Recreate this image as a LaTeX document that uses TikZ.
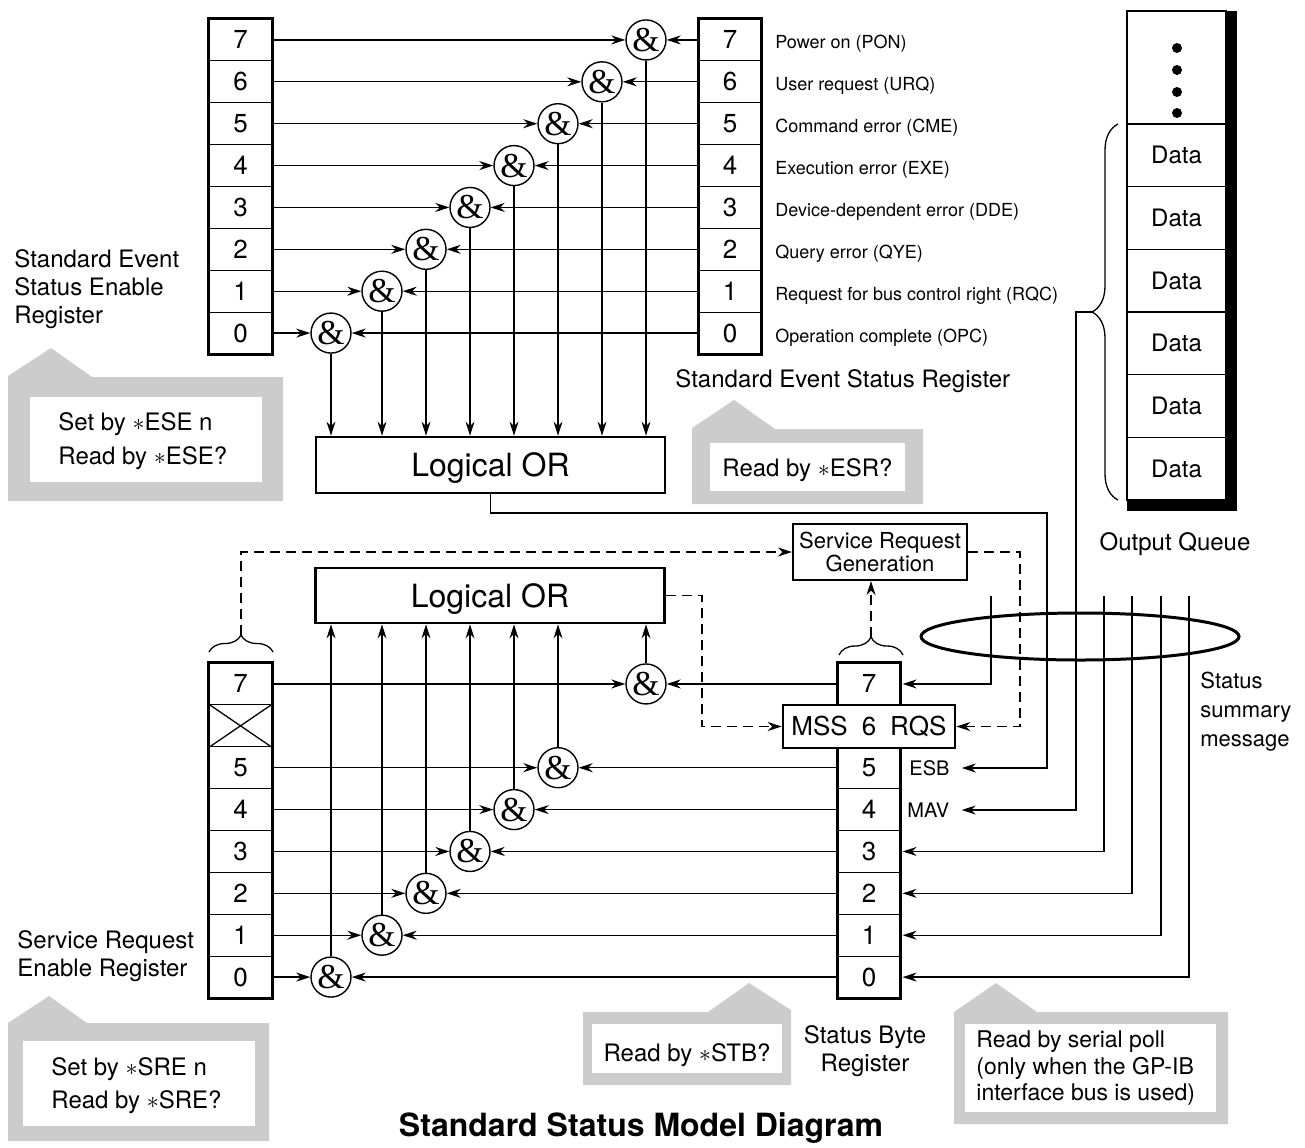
\documentclass[tikz,border=0pt]{standalone}
\usepackage{fontspec}
\setmainfont{TeX Gyre Heros}
\newfontfamily\ampfont{Liberation Serif}
\usetikzlibrary{arrows.meta,decorations.pathreplacing}

\definecolor{callgray}{HTML}{CCCCCC}

\tikzset{
  cell/.style={draw, line width=0.6pt, minimum width=31pt, minimum height=20.94pt, inner sep=0pt, font=\fontsize{13}{13}\selectfont},
  regline/.style={line width=1.5pt},
  gate/.style={circle, draw, line width=0.7pt, minimum size=20pt, inner sep=0pt, fill=white, font=\ampfont\fontsize{17.5}{17.5}\selectfont},
  orbox/.style={draw, line width=1.4pt, minimum width=174.5pt, minimum height=28pt, inner sep=0pt, text height=11.5pt, text depth=0pt, font=\fontsize{16}{16}\selectfont},
  qcell/.style={draw, line width=0.6pt, minimum width=49.5pt, minimum height=31.33pt, inner sep=0pt, font=\fontsize{12}{12}\selectfont},
  wire/.style={line width=0.65pt},
  arr/.style={wire, -{Stealth[length=7pt,width=4.5pt]}},
  dasharr/.style={arr, dash pattern=on 5pt off 3pt},
  curly/.style={decorate, decoration={brace, amplitude=#1}, line width=0.65pt},
  lbl/.style={inner sep=0pt, anchor=base west, font=\fontsize{9}{11}\selectfont},
  txt/.style={inner sep=0pt, align=left, font=\fontsize{12}{14}\selectfont},
}

\begin{document}
\begin{tikzpicture}[x=0.5pt,y=-0.5pt]
\useasboundingbox (0,0) rectangle (1305,1147);

% grey callouts
\fill[callgray] (8,376) -- (51,348) -- (92,377) -- (283,377) -- (283,501) -- (8,501) -- cycle;
\fill[white] (30,397) rectangle (262,482);
\fill[callgray] (692,428) -- (734,400) -- (775,429) -- (923,429) -- (923,504) -- (692,504) -- cycle;
\fill[white] (710,443) rectangle (905,491);
\fill[callgray] (8,1023) -- (49,996) -- (87,1023) -- (269,1023) -- (269,1141) -- (8,1141) -- cycle;
\fill[white] (23,1041) rectangle (255,1126);
\fill[callgray] (583,1012) -- (708,1012) -- (749,983) -- (791,1010) -- (791,1085) -- (583,1085) -- cycle;
\fill[white] (592,1024) rectangle (782,1073);
\fill[callgray] (954,1012) -- (996,983) -- (1037,1012) -- (1228,1012) -- (1228,1124) -- (954,1124) -- cycle;
\fill[white] (965,1024) rectangle (1216,1112);

\node[orbox] (eor) at (490.5,465) {Logical OR};
\node[orbox, minimum height=27.5pt] (sor) at (490,595.5) {Logical OR};

\foreach \bit/\gx in {0/331,1/382,2/426,3/470,4/514,5/558,6/602,7/646}
{
\pgfmathsetmacro\ty{19+41.875*(7.5-\bit)}
\pgfmathsetmacro\by{663+41.875*(7.5-\bit)}
\node[cell] (ese\bit) at (240.5,\ty) {\bit};
\node[cell] (esr\bit) at (730,\ty) {\bit};
\node[gate] (eg\bit) at (\gx,\ty) {\&};
\draw[arr] (ese\bit.east) -- (eg\bit.west);
\draw[arr] (esr\bit.west) -- (eg\bit.east);
\draw[arr] (eg\bit.south) -- (eg\bit.south |- eor.north);
\ifnum\bit=6
\node[cell] (sre6) at (240.5,\by) {};
\node[cell] (stb6) at (869,\by) {};
\else
\node[cell] (sre\bit) at (240.5,\by) {\bit};
\node[cell] (stb\bit) at (869,\by) {\bit};
\node[gate] (sg\bit) at (\gx,\by) {\&};
\draw[arr] (sre\bit.east) -- (sg\bit.west);
\draw[arr] (stb\bit.west) -- (sg\bit.east);
\draw[arr] (sg\bit.north) -- (sg\bit.north |- sor.south);
\fi
}
\foreach \r in {ese,esr,sre,stb}
\draw[regline] (\r7.north west) rectangle (\r0.south east);
\draw[wire] (sre6.north west) -- (sre6.south east) (sre6.north east) -- (sre6.south west);

% event names
\foreach \bit/\t in {7/Power on (PON),6/User request (URQ),5/Command error (CME),4/Execution error (EXE),3/Device-dependent error (DDE),2/Query error (QYE),1/Request for bus control right (RQC),0/Operation complete (OPC)}
{
\pgfmathsetmacro\ty{19+41.875*(7.5-\bit)+9}
\node[lbl] at (775,\ty) {\t};
}

\node[draw, line width=1.3pt, fill=white, minimum width=86pt, minimum height=21.5pt, inner sep=0pt, font=\fontsize{13}{13}\selectfont] (mss) at (869,726.5) {MSS\hspace{7pt}6\hspace{7pt}RQS};
\node[draw, line width=1.1pt, minimum width=87pt, minimum height=28pt, inner sep=0pt, align=center, font=\fontsize{11}{11.5}\selectfont] (srg) at (880,552) {Service Request\\Generation};

% braces
\draw[curly=8.5pt] (209,652) -- (273,652);
\draw[curly=9pt] (839,655) -- (903,655);
\draw[curly=13pt] (1118,500) -- (1118,124);
\coordinate (srebr) at (241,635);
\coordinate (stbbr) at (871,637);
\coordinate (oqbr) at (1092,312);

\draw[dasharr] (srebr) |- (srg.west);
\draw[dasharr] (srg.east) -- ++(52,0) |- (mss.east);
\draw[dasharr] (sor.east) -- ++(36,0) |- (mss.west);
\draw[dasharr] (stbbr) -- (stbbr |- srg.south);

% output queue
\draw[line width=0.6pt] (1127,11) rectangle (1226,124);
\foreach \dy in {48,70,92,113}
\fill (1177,\dy) circle [radius=2.5pt];
\foreach \i in {1,...,6}
\node[qcell] (q\i) at (1176.5,{124+62.67*(\i-0.5)}) {Data};
\fill (1226,11) rectangle (1237,511);
\fill (1127,500) rectangle (1237,511);

% status summary lines
\node[inner sep=0pt, anchor=west, font=\fontsize{10}{10}\selectfont] (esb) at (909,768) {ESB};
\node[inner sep=0pt, anchor=west, font=\fontsize{10}{10}\selectfont] (mav) at (907,810) {MAV};
\draw[arr, shorten >=6pt] (eor.south) |- (1047,513) |- (esb.east);
\draw[arr, shorten >=6pt] (oqbr) -- (1076,312) |- (mav.east);
\coordinate (bus7) at (991,596);
\draw[arr, shorten >=1pt] (bus7) |- (stb7.east);
\foreach \bit/\bx in {3/1104,2/1132,1/1161,0/1189}
{
\coordinate (bus\bit) at (\bx,596);
\draw[arr, shorten >=1pt] (bus\bit) |- (stb\bit.east);
}
\draw[line width=1.5pt] (1080,636.5) ellipse [x radius=79.5pt, y radius=11.75pt];

% texts
\node[txt, anchor=west] at (14,289) {Standard Event\\Status Enable\\Register};
\node[txt, anchor=base west] at (675,387) {Standard Event Status Register};
\node[txt, anchor=west, font=\fontsize{12}{17}\selectfont] at (58,441.5) {Set by $\ast$ESE n\\Read by $\ast$ESE?};
\node[txt] at (807.5,470) {Read by $\ast$ESR?};
\node[txt] at (1175,544) {Output Queue};
\node[txt, anchor=west, font=\fontsize{11}{14.5}\selectfont] at (1200,712) {Status\\summary\\message};
\node[txt, anchor=west] at (17,956.5) {Service Request\\Enable Register};
\node[txt, anchor=west, font=\fontsize{12}{16.5}\selectfont] at (51,1086) {Set by $\ast$SRE n\\Read by $\ast$SRE?};
\node[txt] at (687,1055) {Read by $\ast$STB?};
\node[txt, align=center] at (865,1051) {Status Byte\\Register};
\node[txt, anchor=west, font=\fontsize{11.5}{13.25}\selectfont] at (976,1068.5) {Read by serial poll\\(only when the GP-IB\\interface bus is used)};
\node[font=\bfseries\fontsize{16}{16}\selectfont] at (641,1128) {Standard Status Model Diagram};
\end{tikzpicture}
\end{document}
